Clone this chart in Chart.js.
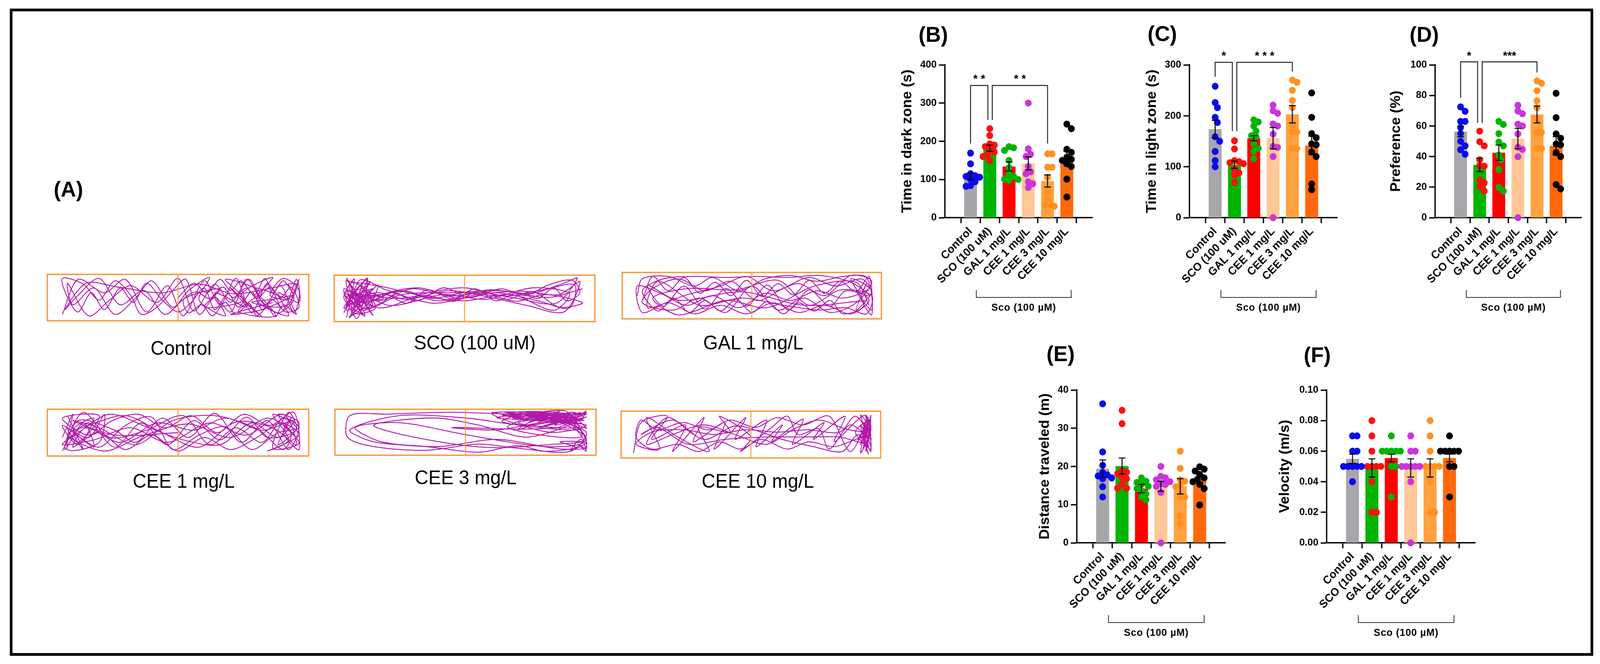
<!DOCTYPE html>
<html>
<head>
<meta charset="utf-8">
<script src="https://cdn.jsdelivr.net/npm/chart.js@4.4.1/dist/chart.umd.min.js"></script>
<style>
  html, body { margin: 0; background: #fff; overflow: hidden; }
  body { font-family: "Liberation Sans", Arial, sans-serif; }
  #fig { position: relative; width: 4233px; height: 1699px; transform-origin: 0 0; }
  .box { position: absolute; }
  .frame { position: absolute; left: 26px; top: 22px; width: 4175px; height: 1642px; border: 7px solid #000; }
  .lbl { position: absolute; font-weight: bold; font-size: 56px; transform: translate(-50%, -50%); white-space: nowrap; }
  .cap { position: absolute; font-size: 50px; transform: translate(-50%, -50%); white-space: nowrap; }
</style>
</head>
<body>
<div id="fig">
  <div class="frame"></div>
  <div class="lbl" style="left:181px;top:483px">(A)</div>
  <div class="lbl" style="left:2469px;top:87px">(B)</div>
  <div class="lbl" style="left:3075px;top:85px">(C)</div>
  <div class="lbl" style="left:3768px;top:87px">(D)</div>
  <div class="lbl" style="left:2806px;top:904px">(E)</div>
  <div class="lbl" style="left:3485px;top:907px">(F)</div>

  <div class="cap" style="left:479px;top:891px">Control</div>
  <div class="cap" style="left:1256px;top:877px">SCO (100 uM)</div>
  <div class="cap" style="left:1993px;top:877px">GAL 1 mg/L</div>
  <div class="cap" style="left:486px;top:1231px">CEE 1 mg/L</div>
  <div class="cap" style="left:1232px;top:1222px">CEE 3 mg/L</div>
  <div class="cap" style="left:2005px;top:1231px">CEE 10 mg/L</div>
</div>

<script>
// the figure is laid out at 4233 wide; squeeze it to whatever viewport we get
const fig = document.getElementById("fig");
fig.style.transform = `scale(${window.innerWidth / 4233}, ${window.innerHeight / 1699})`;

// groups and colours
const groups = ["Control", "SCO (100 uM)", "GAL 1 mg/L", "CEE 1 mg/L", "CEE 3 mg/L", "CEE 10 mg/L"];
const barColors = ["#a7a7ab", "#00b400", "#ff0000", "#ffc896", "#ffa23f", "#ff690a"];
const dotColors = ["#0a0af0", "#ff1010", "#00b400", "#cc33dd", "#ff921f", "#000000"];

// (B) time in dark zone
const darkMean = [108, 182, 134, 142, 96, 156];
const darkSem = [8, 8, 12, 17, 16, 18];
const darkPts = [
  [169, 141, 115, 110, 108, 106, 100, 94, 84, 82],
  [233, 215, 193, 190, 186, 178, 172, 165, 160, 150],
  [186, 183, 176, 150, 131, 113, 108, 101, 100, 98],
  [300, 180, 166, 160, 134, 120, 115, 94, 89, 79],
  [167, 167, 132, 132, 106, 68, 49, 35, 33, 30],
  [245, 233, 179, 171, 158, 153, 150, 141, 134, 101, 54],
];
const darkSig = [
  { a: 0, b: 0.9, yA: 194, yTop: 346, yB: 256, txt: "* *" },
  { a: 1.13, b: 4, yA: 256, yTop: 346, yB: 194, txt: "* *" },
];
const darkStarY = 371;

// (C) time in light zone
const lightMean = [174, 104, 156, 156, 203, 142];
const lightSem = [17, 7, 5, 21, 17, 18];
const lightPts = [
  [258, 226, 216, 197, 187, 159, 150, 130, 112, 100],
  [151, 135, 112, 110, 108, 106, 95, 88, 84, 69],
  [192, 188, 180, 170, 161, 159, 145, 136, 131, 116],
  [221, 210, 205, 184, 180, 164, 140, 138, 120, 0],
  [270, 266, 250, 230, 216, 182, 168, 168, 136, 136],
  [245, 197, 165, 157, 145, 143, 129, 120, 66, 55],
];
const lightSig = [
  { a: 0, b: 0.89, yA: 277, yTop: 305, yB: 170, txt: "*" },
  { a: 1.12, b: 4, yA: 170, yTop: 305, yB: 287, txt: "* * *" },
];
const lightStarY = 323;

// (D) preference
const prefMean = [56.3, 34.5, 42.5, 51.8, 67.5, 47];
const prefSem = [3.4, 4.3, 5, 6.7, 5.5, 6];
const prefPts = [
  [72.5, 69.6, 63, 63, 59, 55, 50, 47, 44.5, 41.5],
  [56.6, 49.7, 47, 37.9, 34, 33.7, 24.6, 22.8, 20.5, 17.5],
  [63, 61, 55, 49.5, 47, 41, 37.8, 31.5, 19.8, 17.5],
  [73.5, 69.8, 68, 61.2, 60, 54.8, 46.1, 44.7, 39.9, 0],
  [89.5, 88, 83, 76.5, 72, 64.5, 55.8, 55.8, 45.3, 45.3],
  [81.4, 65.5, 54.8, 52, 48.2, 47.7, 42.6, 40, 21.7, 18.8],
];
const prefSig = [
  { a: 0, b: 0.89, yA: 78.5, yTop: 102, yB: 62, txt: "*" },
  { a: 1.13, b: 4, yA: 62, yTop: 102, yB: 95, txt: "***" },
];
const prefStarY = 107.7;

// (E) distance traveled
const distMean = [19.4, 20.1, 14.2, 14.8, 14.8, 16.6];
const distSem = [2.3, 2.1, 1.1, 1.3, 2, 0.8];
const distPts = [
  [36.4, 23.8, 20.3, 18.4, 17.8, 17.5, 17, 16.8, 14.7, 12],
  [34.7, 31.2, 18.8, 18.5, 18.1, 17, 16.8, 15.3, 14.3, 14.3],
  [17, 16.1, 15.8, 15.3, 14.8, 14.2, 13.6, 12.8, 12, 11.3],
  [20, 17.4, 17, 16.5, 16, 15.5, 15.3, 14.8, 13.2, 0],
  [24, 19.5, 16.5, 16.1, 15, 14.7, 12, 12, 7, 5.1],
  [19.9, 19.3, 18.8, 17.9, 17, 16.6, 16, 15.3, 14.2, 9.9],
];

// (F) velocity
const velMean = [0.055, 0.049, 0.0555, 0.049, 0.049, 0.0555];
const velSem = [0.003, 0.006, 0.0025, 0.006, 0.006, 0.0025];
const velPts = [
  [0.07, 0.07, 0.06, 0.06, 0.05, 0.05, 0.05, 0.05, 0.05, 0.04],
  [0.08, 0.07, 0.06, 0.05, 0.05, 0.05, 0.05, 0.04, 0.02, 0.02],
  [0.07, 0.06, 0.06, 0.06, 0.06, 0.06, 0.06, 0.05, 0.05, 0.03],
  [0.07, 0.06, 0.06, 0.05, 0.05, 0.05, 0.05, 0.05, 0.04, 0.0],
  [0.08, 0.07, 0.06, 0.05, 0.05, 0.05, 0.05, 0.04, 0.02, 0.02],
  [0.07, 0.06, 0.06, 0.06, 0.06, 0.06, 0.06, 0.05, 0.05, 0.03],
];

// (A) swim tracks (arena units 0-100), two passes each
const trackControl = [[6,15],[12,88],[22,60],[30,88],[38,20],[46,75],[52,12],[60,85],[66,35],[72,90],[78,18],[84,80],[90,25],[95,88],[96,40],[88,60],[92,12],[80,45],[86,92],[74,55],[82,10],[70,70],[76,30],[64,60],[68,12],[58,45],[62,92],[54,65],[48,30],[40,85],[34,50],[26,15],[18,70],[10,35],[8,80],[16,12],[24,45],[32,75],[42,40],[50,90],[56,22],[64,78],[70,40],[77,88],[83,35],[89,75],[94,18],[96,65],[90,90],[85,55],[92,45],[79,70],[87,12],[73,22],[81,62],[68,88],[75,45],[60,30],[66,68],[53,50],[45,15],[37,65],[28,35],[20,90],[12,55],[7,25],[15,80],[27,72],[44,60],[58,78],[71,58],[84,68],[95,78],[91,32],[78,40],[88,48],[94,55],[82,25],[70,15],[86,40]];
const trackControl2 = [[50,50],[56,80],[61,60],[66,88],[70,65],[74,85],[79,55],[83,90],[86,60],[90,85],[94,60],[96,88],[93,40],[95,15],[90,35],[87,10],[84,30],[80,12],[77,38],[72,15],[68,40],[63,12],[59,35],[54,18],[52,45],[57,62],[62,48],[67,72],[71,50],[76,70],[80,48],[85,72],[89,50],[93,72],[96,30],[91,20],[86,45],[82,25],[78,62],[73,30],[69,58],[64,25],[60,70],[55,40],[50,20],[44,45],[38,80],[33,40],[28,70],[22,25],[17,60],[12,20],[8,50],[6,90],[14,78],[20,45],[26,85],[32,55],[36,15],[42,30],[48,65],[53,88],[58,15],[64,50],[70,20],[76,88],[82,42],[88,18],[94,45],[92,78]];
const trackSco = [[5,10],[8,90],[4,50],[12,15],[6,85],[14,60],[5,25],[10,75],[15,35],[4,70],[9,8],[13,92],[6,40],[16,55],[7,15],[11,80],[4,30],[15,70],[8,50],[12,12],[5,65],[17,45],[30,70],[45,55],[60,68],[75,60],[88,82],[93,92],[85,40],[70,50],[55,62],[40,45],[25,65],[12,40],[6,55],[18,30],[35,60],[50,72],[65,55],[80,68],[92,78],[90,30],[78,45],[62,62],[48,50],[32,72],[14,50],[7,20],[10,88],[20,68],[38,40],[55,58],[72,65],[86,58],[94,85],[88,22],[74,35],[60,52],[44,66],[28,48],[16,62],[5,35],[9,60],[22,35],[42,58],[58,48],[76,72],[90,60],[84,25],[68,58],[50,45],[34,55],[18,75],[6,80],[12,28],[26,58],[46,62],[64,66],[82,52],[95,70]];
const trackSco2 = [[4,20],[7,70],[5,92],[10,40],[6,10],[14,85],[9,55],[4,60],[12,25],[17,78],[8,35],[5,88],[15,15],[10,65],[19,50],[6,45],[13,90],[8,20],[16,30],[11,70],[5,50],[20,58],[28,40],[36,68],[46,48],[54,70],[62,45],[70,62],[78,50],[84,72],[89,45],[94,62],[91,88],[82,78],[73,56],[64,70],[52,52],[42,72],[32,45],[22,62],[14,45],[7,62],[11,30],[18,40],[26,66],[38,50],[50,62],[60,56],[70,44],[80,58],[90,50],[95,40],[86,32],[76,64],[66,48],[56,66],[46,44],[36,56],[24,50],[12,58]];
const trackGal = [[6,50],[8,85],[18,90],[28,70],[35,88],[45,60],[55,85],[65,92],[75,80],[85,90],[94,88],[96,20],[90,60],[95,40],[88,12],[78,30],[68,15],[58,35],[48,12],[38,30],[28,12],[18,35],[8,15],[6,70],[15,55],[25,30],[35,50],[45,25],[55,55],[65,40],[75,60],[85,45],[95,65],[92,85],[82,70],[72,88],[62,65],[52,40],[42,80],[32,60],[22,85],[12,65],[8,35],[20,20],[30,45],[40,15],[50,70],[60,20],[70,45],[80,15],[90,35],[96,80],[88,92],[78,50],[68,75],[58,60],[48,90],[38,70],[24,50],[10,25],[14,80],[30,30],[46,45],[62,30],[76,20],[86,25],[94,12],[96,50],[84,62],[72,30],[60,82],[44,62],[26,65],[12,45],[22,10],[40,40],[56,25],[74,70],[90,78],[95,30]];
const trackGal2 = [[8,40],[12,90],[18,60],[24,88],[30,55],[36,78],[42,50],[48,82],[54,48],[60,75],[66,52],[72,82],[78,55],[84,80],[90,58],[95,90],[96,10],[92,45],[94,75],[90,20],[96,60],[88,85],[93,30],[85,12],[80,40],[74,18],[68,35],[62,12],[56,38],[50,15],[44,42],[38,18],[32,40],[26,15],[20,45],[14,18],[8,60],[16,85],[28,90],[40,88],[52,90],[64,88],[76,92],[88,78],[95,50],[86,60],[80,28],[72,62],[64,20],[56,72],[48,28],[40,65],[32,22],[24,70],[16,28],[10,72],[22,40],[46,58],[70,30],[94,40]];
const trackCee1 = [[6,40],[10,88],[7,15],[14,70],[18,20],[8,60],[12,30],[20,85],[6,80],[16,45],[25,75],[35,88],[45,60],[55,85],[65,50],[75,88],[85,65],[94,92],[96,15],[90,50],[93,80],[88,25],[95,60],[86,88],[92,35],[84,12],[96,45],[89,70],[80,40],[70,15],[60,40],[50,12],[40,45],[30,15],[20,50],[10,20],[15,60],[28,30],[42,70],[56,55],[68,80],[82,55],[94,75],[88,40],[78,70],[66,25],[52,35],[38,62],[24,88],[12,50],[6,25],[18,35],[32,60],[46,30],[62,70],[76,45],[90,88],[95,25],[86,60],[72,72],[58,20],[44,50],[30,85],[16,65],[8,45],[22,12],[36,42],[54,68],[70,40],[84,80],[93,50],[90,15],[80,58],[64,85],[48,75],[34,25],[20,60],[10,75],[26,45],[50,50]];
const trackCee12 = [[8,85],[14,15],[10,55],[18,80],[12,25],[6,65],[16,40],[22,88],[20,30],[8,15],[12,75],[26,55],[34,30],[44,80],[54,40],[64,90],[74,30],[84,75],[92,15],[96,70],[88,88],[94,45],[90,65],[96,28],[86,18],[92,92],[95,55],[84,40],[76,82],[66,35],[56,75],[46,25],[36,70],[26,20],[16,70],[8,35],[14,92],[24,40],[38,55],[52,85],[62,25],[72,60],[82,30],[90,80],[96,60],[88,50],[78,15],[68,62],[58,45],[48,15],[40,82],[30,65],[20,20],[10,45],[6,12]];
const trackCee3 = [[96,90],[70,88],[45,92],[20,88],[6,85],[5,40],[15,20],[35,12],[55,25],[72,15],[90,10],[96,50],[80,80],[65,92],[88,70],[75,92],[95,75],[62,80],[85,92],[92,60],[70,70],[96,88],[78,60],[90,85],[60,90],[82,50],[96,65],[72,82],[88,95],[94,40],[66,60],[84,88],[95,30],[80,20],[50,45],[25,70],[8,60],[18,30],[40,20],[62,35],[86,15],[96,20],[91,75],[76,92],[64,72],[93,55],[81,85],[70,55],[90,92],[95,80],[74,40],[55,65],[38,80],[15,65],[30,40],[58,18],[84,25],[96,35],[87,82],[68,88],[92,70],[79,70],[62,55],[45,60],[85,60],[96,95]];
const trackCee32 = [[60,92],[72,80],[66,90],[80,92],[74,70],[86,95],[78,75],[92,90],[84,65],[96,82],[88,75],[70,92],[82,80],[94,68],[76,88],[90,80],[64,86],[86,72],[96,92],[80,62],[92,82],[72,75],[88,90],[96,58],[84,85],[68,80],[90,70],[78,90],[95,45],[96,15],[93,25],[96,10],[94,35],[90,12],[96,28],[86,30],[92,18],[80,10],[70,22],[55,8],[35,20],[15,30],[6,55],[25,85],[50,80],[75,65],[94,92]];
const trackCee10 = [[5,12],[8,75],[18,88],[12,40],[25,70],[20,15],[32,85],[28,35],[40,75],[36,20],[48,85],[44,40],[56,80],[52,25],[62,70],[58,35],[70,82],[66,30],[78,75],[74,40],[86,88],[82,35],[94,90],[96,15],[93,60],[95,85],[92,30],[96,70],[94,20],[95,50],[90,88],[84,55],[72,60],[60,55],[48,60],[36,50],[24,60],[12,55],[6,30],[15,20],[10,85],[22,45],[34,15],[30,65],[42,55],[38,88],[50,45],[46,15],[58,65],[64,88],[68,50],[76,62],[80,20],[88,70],[96,40],[93,75],[95,25],[91,50],[85,15],[74,25],[62,40],[54,55],[44,68],[32,40],[20,80],[8,50],[14,65],[26,30],[40,40],[56,45],[70,45],[84,45],[94,35],[96,80]];
const trackCee102 = [[94,15],[96,90],[93,20],[95,80],[92,12],[96,60],[94,88],[96,30],[92,70],[95,10],[93,50],[96,85],[91,40],[95,65],[92,90],[96,20],[90,55],[94,75],[88,15],[80,88],[70,70],[60,85],[52,65],[42,80],[34,60],[24,75],[14,60],[8,80],[6,45],[12,20],[22,30],[30,15],[38,35],[46,20],[54,40],[64,20],[72,35],[82,25],[90,40],[96,50],[86,62],[76,80],[66,60],[56,30],[44,50],[32,70],[20,50],[10,30],[18,85],[28,50]];

Chart.defaults.font.family = '"Liberation Sans", Arial, sans-serif';
Chart.defaults.color = "#000";

const X_MIN = -0.69;
const X_MAX = 5.69;
const PAD_TOP = 66;
const PAD_RIGHT = 12;
const X_AXIS_H = 260;
const DOT_R = 9;

const makeBox = (left, top, width, height) => {
  const div = document.createElement("div");
  div.className = "box";
  div.style.left = left + "px";
  div.style.top = top + "px";
  div.style.width = width + "px";
  div.style.height = height + "px";
  const cv = document.createElement("canvas");
  div.appendChild(cv);
  fig.appendChild(div);
  return cv;
};

// spread dots sideways so they don't sit on top of each other (prism style)
const swarm = (vals, yMax, plotH, catPx) => {
  const placed = [];
  const order = vals.map((v, i) => i).sort((a, b) => vals[b] - vals[a]);
  const steps = [0, 1, -1, 2, -2, 3, -3, 4, -4, 5, -5];
  order.forEach((i) => {
    const py = (vals[i] / yMax) * plotH;
    let spot = null;
    for (const k of steps) {
      const px = k * DOT_R * 0.8;
      const hit = placed.some((p) => (p.px - px) ** 2 + (p.py - py) ** 2 < (DOT_R * 1.55) ** 2);
      if (!hit) { spot = px; break; }
    }
    if (spot === null) spot = 0;
    placed.push({ px: spot, py, v: vals[i] });
  });
  return placed.map((p) => ({ x: p.px / catPx, y: p.v }));
};

const decorPlugin = (means, sems, sig, starY) => ({
  id: "decor",
  afterDatasetsDraw(chart) {
    const { ctx, scales: { x, y } } = chart;
    ctx.save();
    ctx.strokeStyle = "#000";
    ctx.lineWidth = 2.5;
    means.forEach((m, i) => {
      const cx = x.getPixelForValue(i);
      const t = y.getPixelForValue(m + sems[i]);
      const b = y.getPixelForValue(m - sems[i]);
      ctx.beginPath();
      ctx.moveTo(cx, t); ctx.lineTo(cx, b);
      ctx.moveTo(cx - 9, t); ctx.lineTo(cx + 9, t);
      ctx.moveTo(cx - 9, b); ctx.lineTo(cx + 9, b);
      ctx.stroke();
    });
    ctx.restore();
  },
  afterDraw(chart) {
    const { ctx, chartArea, scales: { x, y } } = chart;
    ctx.save();
    ctx.strokeStyle = "#222";
    ctx.fillStyle = "#000";
    ctx.lineWidth = 2.5;
    sig.forEach((s) => {
      const xa = x.getPixelForValue(s.a);
      const xb = x.getPixelForValue(s.b);
      const yt = y.getPixelForValue(s.yTop);
      ctx.beginPath();
      ctx.moveTo(xa, y.getPixelForValue(s.yA));
      ctx.lineTo(xa, yt);
      ctx.lineTo(xb, yt);
      ctx.lineTo(xb, y.getPixelForValue(s.yB));
      ctx.stroke();
      ctx.font = 'bold 30px "Liberation Sans", Arial, sans-serif';
      ctx.textAlign = "center";
      ctx.textBaseline = "middle";
      ctx.fillText(s.txt, (xa + xb) / 2, y.getPixelForValue(starY) + 8);
    });
    // "Sco (100 µM)" group line under the labels
    const gx1 = x.getPixelForValue(0.3);
    const gx2 = x.getPixelForValue(5.23);
    const gy = chartArea.bottom + 204;
    ctx.strokeStyle = "#333";
    ctx.lineWidth = 2.2;
    ctx.beginPath();
    ctx.moveTo(gx1, gy - 19); ctx.lineTo(gx1, gy); ctx.lineTo(gx2, gy); ctx.lineTo(gx2, gy - 19);
    ctx.stroke();
    ctx.font = 'bold 26px "Liberation Sans", Arial, sans-serif';
    if ("letterSpacing" in ctx) ctx.letterSpacing = "1px";
    ctx.textAlign = "center";
    ctx.textBaseline = "middle";
    ctx.fillText("Sco (100 \u00b5M)", (gx1 + gx2) / 2, chartArea.bottom + 231);
    ctx.restore();
  },
});

const barPanel = (g, means, sems, pts, yMax, yStep, dec, title, sig, starY) => {
  const left = g.titleX - 26;
  const top = g.plotTop - PAD_TOP;
  const width = g.right + PAD_RIGHT - left;
  const height = g.plotBottom + X_AXIS_H - top;
  const cv = makeBox(left, top, width, height);
  const catPx = (g.right - g.axisX) / (X_MAX - X_MIN);
  const plotH = g.plotBottom - g.plotTop;

  const dotSets = pts.map((vals, i) => ({
    type: "scatter",
    data: swarm(vals, yMax, plotH, catPx).map((p) => ({ x: i + p.x, y: p.y })),
    backgroundColor: dotColors[i],
    pointRadius: DOT_R,
    pointHoverRadius: DOT_R,
    pointBorderWidth: 0,
    clip: false,
    order: 1,
  }));

  const nTicks = Math.round(yMax / yStep);

  new Chart(cv, {
    type: "scatter",
    data: {
      datasets: [
        {
          type: "bar",
          data: means.map((m, i) => ({ x: i, y: m })),
          backgroundColor: barColors,
          barPercentage: 0.67,
          categoryPercentage: 1,
          order: 2,
        },
        ...dotSets,
      ],
    },
    options: {
      responsive: true,
      maintainAspectRatio: false,
      animation: false,
      devicePixelRatio: 1,
      layout: { padding: { top: PAD_TOP, right: PAD_RIGHT, left: 0, bottom: 0 } },
      plugins: { legend: { display: false }, tooltip: { enabled: false } },
      scales: {
        x: {
          type: "linear",
          min: X_MIN,
          max: X_MAX,
          afterBuildTicks: (s) => { s.ticks = groups.map((_, i) => ({ value: i })); },
          afterFit: (s) => { s.height = X_AXIS_H; },
          ticks: {
            autoSkip: false,
            minRotation: 45,
            maxRotation: 45,
            padding: 4,
            font: { size: 29, weight: "bold" },
            callback: (v) => groups[v],
          },
          grid: { drawOnChartArea: false, tickLength: 14, tickWidth: 3.5, tickColor: "#000" },
          border: { color: "#000", width: 3.5 },
        },
        y: {
          min: 0,
          max: yMax,
          afterBuildTicks: (s) => {
            s.ticks = [];
            for (let k = 0; k <= nTicks; k++) s.ticks.push({ value: +(k * yStep).toFixed(dec + 2) });
          },
          afterFit: (s) => { s.width = g.axisX - left; },
          ticks: {
            padding: 6,
            font: { size: 26, weight: "bold" },
            callback: (v) => Number(v).toFixed(dec),
          },
          title: { display: true, text: title, font: { size: 37, weight: "bold" }, padding: { top: 4, bottom: 4 } },
          grid: { drawOnChartArea: false, tickLength: 16, tickWidth: 3.5, tickColor: "#000" },
          border: { color: "#000", width: 3.5 },
        },
      },
    },
    plugins: [decorPlugin(means, sems, sig, starY)],
  });
};

barPanel({ titleX: 2401, axisX: 2500, right: 2890, plotTop: 166, plotBottom: 557 },
  darkMean, darkSem, darkPts, 400, 100, 0, "Time in dark zone (s)", darkSig, darkStarY);
barPanel({ titleX: 3048, axisX: 3147, right: 3538, plotTop: 166, plotBottom: 557 },
  lightMean, lightSem, lightPts, 300, 100, 0, "Time in light zone (s)", lightSig, lightStarY);
barPanel({ titleX: 3694, axisX: 3797, right: 4184, plotTop: 166, plotBottom: 557 },
  prefMean, prefSem, prefPts, 100, 20, 0, "Preference (%)", prefSig, prefStarY);
barPanel({ titleX: 2765, axisX: 2849, right: 3242, plotTop: 998, plotBottom: 1389 },
  distMean, distSem, distPts, 40, 10, 0, "Distance traveled (m)", [], 0);
barPanel({ titleX: 3400, axisX: 3510, right: 3903, plotTop: 998, plotBottom: 1389 },
  velMean, velSem, velPts, 0.1, 0.02, 2, "Velocity (m/s)", [], 0);

// (A) arenas
const TRACK = "rgb(178,24,170)";
const ORANGE = "#f7983a";

const trackSet = (track) => ({
  data: track.map(([x, y]) => ({ x, y })),
  showLine: true,
  tension: 0.3,
  borderColor: TRACK,
  borderWidth: 2.3,
  pointRadius: 0,
});

const arena = (l, t, w, h, tracks) => {
  const cv = makeBox(l, t, w, h);
  new Chart(cv, {
    type: "scatter",
    data: { datasets: tracks.map(trackSet) },
    options: {
      responsive: true,
      maintainAspectRatio: false,
      animation: false,
      devicePixelRatio: 1,
      layout: { padding: 0 },
      plugins: { legend: { display: false }, tooltip: { enabled: false } },
      scales: {
        x: { display: false, min: 0, max: 100 },
        y: { display: false, min: 0, max: 100 },
      },
    },
    plugins: [{
      id: "arenaBox",
      afterDraw(chart) {
        const { ctx, chartArea: a, scales: { x } } = chart;
        ctx.save();
        ctx.strokeStyle = ORANGE;
        ctx.lineWidth = 3.5;
        ctx.strokeRect(a.left + 2, a.top + 2, a.width - 4, a.height - 4);
        const mx = x.getPixelForValue(50);
        ctx.lineWidth = 2.5;
        ctx.beginPath();
        ctx.moveTo(mx, a.top + 2);
        ctx.lineTo(mx, a.bottom - 2);
        ctx.stroke();
        ctx.restore();
      },
    }],
  });
};

arena(122, 699, 698, 125, [trackControl, trackControl2]);
arena(881, 701, 696, 125, [trackSco, trackSco2]);
arena(1643, 694, 692, 125, [trackGal, trackGal2]);
arena(122, 1044, 698, 126, [trackCee1, trackCee12]);
arena(883, 1044, 697, 124, [trackCee3, trackCee32]);
arena(1640, 1049, 693, 126, [trackCee10, trackCee102]);
</script>
</body>
</html>
